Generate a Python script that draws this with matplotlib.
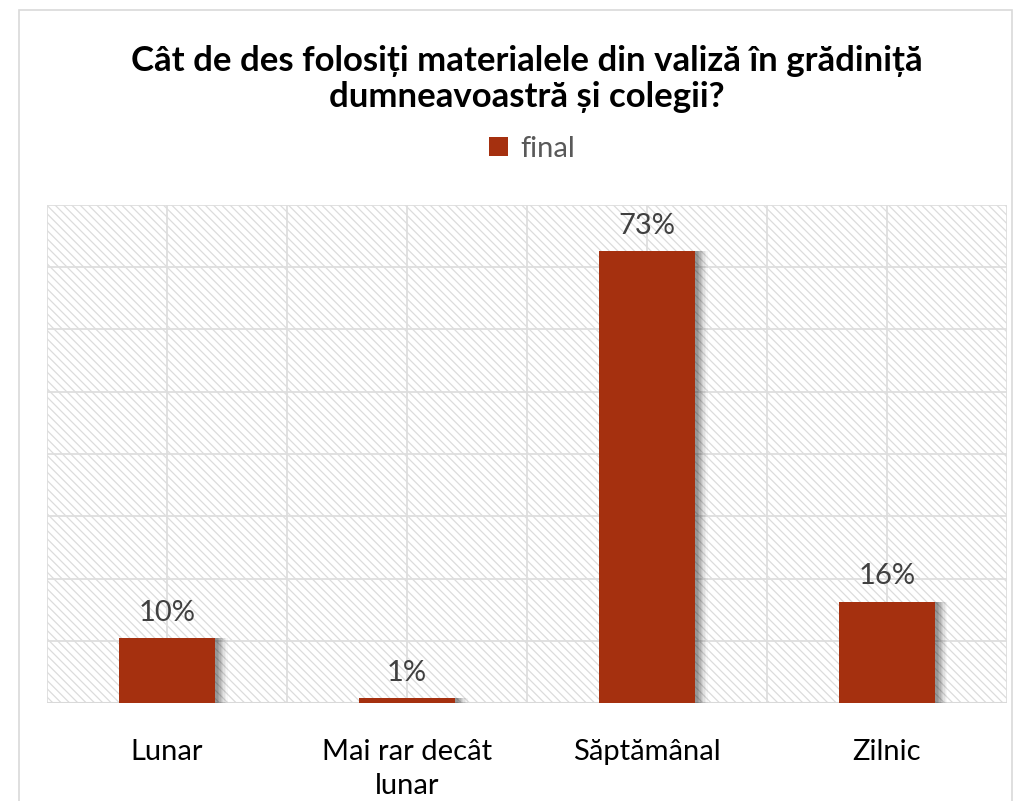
import numpy as np
import matplotlib
matplotlib.use("Agg")
import matplotlib.pyplot as plt
import matplotlib.patheffects as pe
from matplotlib.patches import Rectangle

# date
categorii = ["Lunar", "Mai rar decât\nlunar", "Săptămânal", "Zilnic"]
valori = [10.4, 0.8, 72.6, 16.3]
etichete = ["10%", "1%", "73%", "16%"]
serie = "final"
titlu = "Cât de des folosiți materialele din valiză în grădiniță\ndumneavoastră și colegii?"

culoare = "#A5300F"
font = ["Lato", "DejaVu Sans"]

plt.rcParams["font.family"] = font
plt.rcParams["hatch.color"] = "#dcdcdc"
plt.rcParams["hatch.linewidth"] = 0.9

fig = plt.figure(figsize=(10.15, 8.01), dpi=100)

# chenarul graficului
fig.patches.append(Rectangle((19 / 1015, -0.01), 993 / 1015, 1 - 10 / 801 + 0.01,
                             transform=fig.transFigure, fill=False,
                             edgecolor="#d9d9d9", linewidth=1.2))

ax = fig.add_axes([47 / 1015, 98 / 801, 960 / 1015, 498 / 801])
ax.set_xlim(-0.5, 3.5)
ax.set_ylim(0, 80)

# fundal hașurat
ax.add_patch(Rectangle((-0.5, 0), 4, 80, facecolor="white", hatch="\\\\\\\\",
                       edgecolor="#dcdcdc", linewidth=0, zorder=0))

for y in np.arange(10, 81, 10):
    ax.axhline(y, color="#dedede", linewidth=1.3, zorder=1)
for x in np.arange(-0.5, 3.6, 0.5):
    ax.axvline(x, color="#dedede", linewidth=1.3, zorder=1)
ax.axhline(0, color="#d9d9d9", linewidth=1.5, zorder=1)

x = np.arange(len(categorii))
umbra = []
for dx, a in [(9, 0.03), (8, 0.04), (7, 0.05), (6, 0.06), (5, 0.07), (4, 0.08), (3, 0.08), (2, 0.08)]:
    umbra.append(pe.SimplePatchShadow(offset=(dx, 0), shadow_rgbFace="black", alpha=a))
bare = ax.bar(x, valori, width=0.4, color=culoare, zorder=3, label=serie)
for b in bare:
    b.set_path_effects(umbra + [pe.Normal()])

for xi, v, t in zip(x, valori, etichete):
    ax.text(xi, v + 2.0, t, ha="center", va="bottom", fontsize=21, color="#404040")

ax.set_xticks(x)
ax.set_xticklabels(categorii, fontsize=21, color="black", linespacing=1.38)
ax.tick_params(axis="x", length=0, pad=26)
ax.set_yticks([])
for s in ax.spines.values():
    s.set_visible(False)

fig.text(0.519, 1 - 79 / 801, titlu, ha="center", va="center", fontsize=25,
         fontweight="bold", color="black", linespacing=1.15)

leg = fig.legend(handles=[bare[0]], labels=[serie], loc="center",
                 bbox_to_anchor=(532 / 1015, 1 - 149 / 801), frameon=False,
                 fontsize=21, handlelength=0.65, handleheight=0.65, handletextpad=0.4,
                 labelcolor="#595959")
for h in leg.legend_handles:
    h.set_path_effects([])

fig.savefig("out.png", dpi=100)
